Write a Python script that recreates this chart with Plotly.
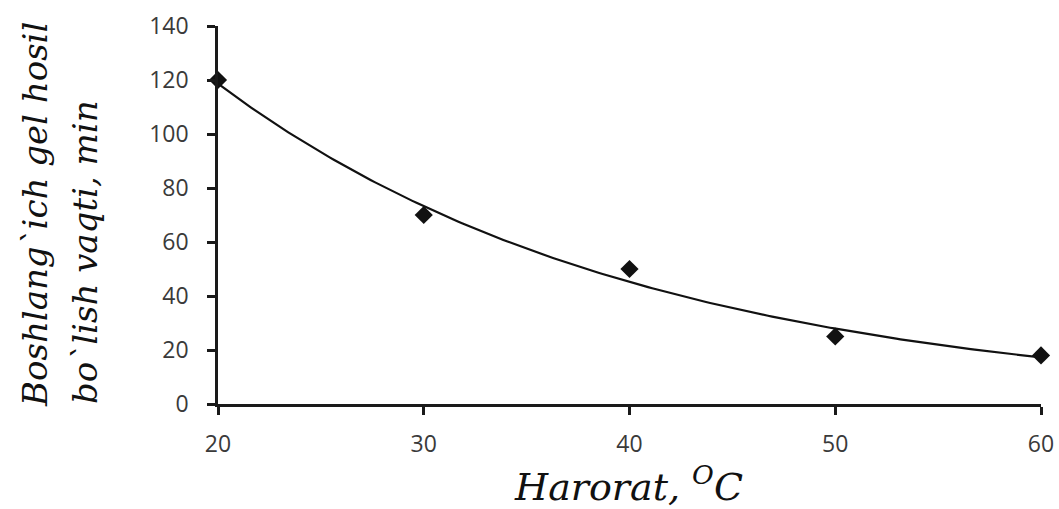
import numpy as np
import plotly.graph_objects as go

# Measured gel-formation start time vs. temperature
temperature = [20, 30, 40, 50, 60]
gel_time = [120, 70, 50, 25, 18]

x_ticks = [20, 30, 40, 50, 60]
y_ticks = [0, 20, 40, 60, 80, 100, 120, 140]

# Exponential trendline fitted to the measurements (least squares on ln y)
b, ln_a = np.polyfit(temperature, np.log(gel_time), 1)
x_fit = np.linspace(min(temperature), max(temperature), 200)
y_fit = np.exp(ln_a) * np.exp(b * x_fit)

W, H = 1059, 509
L, R, T, B = 218, 18, 26, 105
pw = W - L - R
ph = H - T - B


def px_to_paper_x(px):
    return (px - L) / pw


def px_to_paper_y(py):
    return (H - B - py) / ph


fig = go.Figure()
fig.add_trace(go.Scatter(
    x=x_fit, y=y_fit, mode="lines",
    line=dict(color="#111111", width=2.2),
    hoverinfo="skip", cliponaxis=False,
))
fig.add_trace(go.Scatter(
    x=temperature, y=gel_time, mode="markers",
    marker=dict(symbol="diamond", size=14, color="#111111"),
    cliponaxis=False,
))

tick_font = dict(family="Open Sans", size=23, color="#3a3a3a")
axis_common = dict(
    showgrid=False, zeroline=False, showline=True,
    linecolor="#1a1a1a", linewidth=2.5,
    ticks="outside", ticklen=8, tickwidth=2.5, tickcolor="#1a1a1a",
    tickfont=tick_font, automargin=False,
)

fig.update_xaxes(range=[20, 60], tickvals=x_ticks, ticklabelstandoff=10, **axis_common)
fig.update_yaxes(range=[0, 140], tickvals=y_ticks, ticklabelstandoff=14, **axis_common)

y_title_font = dict(family="DejaVu Serif", size=34, color="#111111", style="italic")
x_title_font = dict(family="DejaVu Serif", size=38, color="#111111", style="italic")

fig.add_annotation(
    text="Boshlang`ich gel hosil", textangle=-90,
    xref="paper", yref="paper", x=px_to_paper_x(35), y=px_to_paper_y(215),
    xanchor="center", yanchor="middle", showarrow=False, font=y_title_font,
)
fig.add_annotation(
    text="bo`lish vaqti, min", textangle=-90,
    xref="paper", yref="paper", x=px_to_paper_x(85), y=px_to_paper_y(252),
    xanchor="center", yanchor="middle", showarrow=False, font=y_title_font,
)
fig.add_annotation(
    text="Harorat, <sup>O</sup>C",
    xref="paper", yref="paper", x=px_to_paper_x(628), y=px_to_paper_y(484),
    xanchor="center", yanchor="middle", showarrow=False, font=x_title_font,
)

fig.update_layout(
    width=W, height=H,
    margin=dict(l=L, r=R, t=T, b=B, autoexpand=False),
    paper_bgcolor="white", plot_bgcolor="white",
    showlegend=False,
)

fig.write_html("out.html")
